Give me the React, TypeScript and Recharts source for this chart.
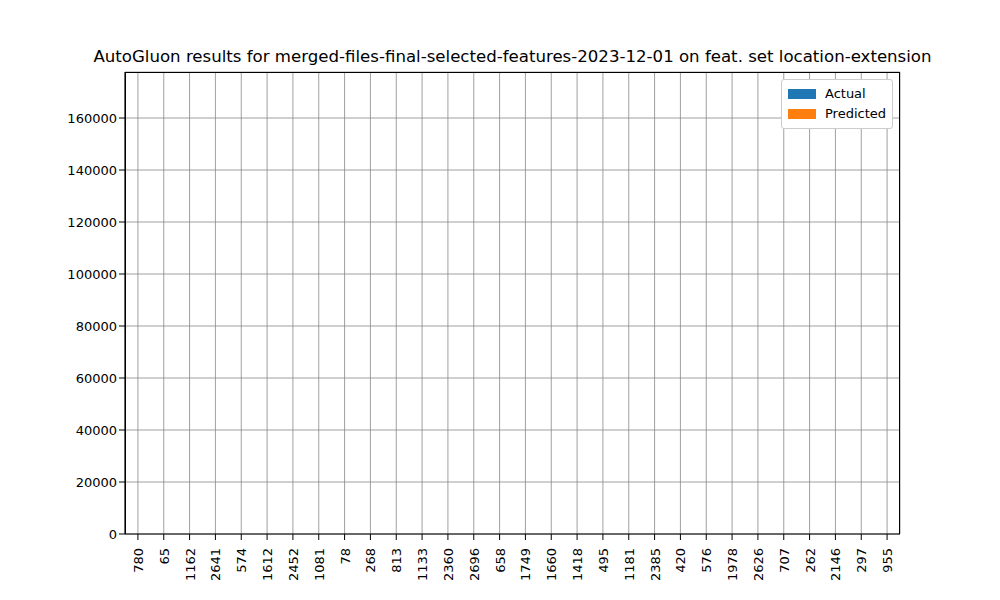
import React from 'react';
import { BarChart, Bar, XAxis, YAxis, CartesianGrid } from 'recharts';

const categories = ['780','65','1162','2641','574','1612','2452','1081','78','268','813','1133','2360','2696','658','1749','1660','1418','495','1181','2385','420','576','1978','2626','707','262','2146','297','955'];
const actual = [70000,34000,74500,130000,42500,165000,63000,137000,31500,10000,48500,105000,71000,88000,119000,49500,97000,98000,69000,54000,63000,135000,42500,86500,117000,95000,47000,100000,82000,153000];
const predicted = [67500,41000,78500,154500,50500,169000,62000,113500,32500,67000,47000,97500,61500,84000,143500,56000,110000,98000,74000,62000,61500,117000,47500,93500,118500,112000,60500,81500,94500,143000];
const yTicks = [0,20000,40000,60000,80000,100000,120000,140000,160000];

const data = categories.map((c, i) => ({ name: c, Actual: actual[i], Predicted: predicted[i] }));

const XTick = (props: any) => {
  const { x, y, payload } = props;
  return (
    <g transform={`translate(${x},${y + 6})`}>
      <text transform="rotate(-90)" textAnchor="end" dy={5} fontSize={13} fill="#000">{payload.value}</text>
    </g>
  );
};

export default function App() {
  return (
    <div style={{ margin: -8, width: 1000, height: 600, position: 'relative', fontFamily: 'DejaVu Sans', background: '#fff' }}>
      <div style={{ position: 'absolute', top: 47, left: 0, width: 1025, textAlign: 'center', fontSize: 16.6 }}>
        AutoGluon results for merged-files-final-selected-features-2023-12-01 on feat. set location-extension
      </div>
      <BarChart width={1000} height={600} data={data} margin={{ top: 72, right: 100, left: 65, bottom: 0 }} barCategoryGap="50%" barGap={0}>
        <CartesianGrid stroke="#888" strokeWidth={0.8} />
        <XAxis dataKey="name" interval={0} tick={<XTick />} tickLine={{ stroke: '#000' }} axisLine={{ stroke: '#000' }} height={66} />
        <YAxis width={60} domain={[0, 177700]} ticks={yTicks} tick={{ fontSize: 13, fill: '#000' }} tickLine={{ stroke: '#000' }} axisLine={{ stroke: '#000' }} />
        <Bar dataKey="Actual" fill="#1f77b4" isAnimationActive={false} />
        <Bar dataKey="Predicted" fill="#ff7f0e" isAnimationActive={false} />
      </BarChart>
      <div style={{ position: 'absolute', left: 125, top: 72, width: 775, height: 462, border: '1px solid #000', borderBottom: 'none', boxSizing: 'border-box', pointerEvents: 'none' }} />
      <div style={{ position: 'absolute', right: 107, top: 79, border: '1px solid #ccc', borderRadius: 3, background: '#fff', padding: '4px 6px', fontSize: 13, lineHeight: '20px' }}>
        {[['Actual', '#1f77b4'], ['Predicted', '#ff7f0e']].map(([n, c]) => (
          <div key={n} style={{ display: 'flex', alignItems: 'center' }}>
            <span style={{ width: 28, height: 10, background: c, display: 'inline-block', marginRight: 9 }} />
            {n}
          </div>
        ))}
      </div>
    </div>
  );
}
